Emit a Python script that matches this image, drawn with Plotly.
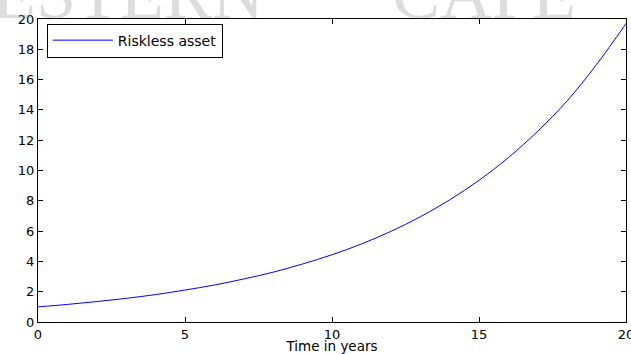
import plotly.graph_objects as go

years = [0, 1, 2, 3, 4, 5, 6, 7, 8, 9, 10, 11, 12, 13, 14, 15, 16, 17, 18, 19, 20]
riskless = [1.00, 1.16, 1.35, 1.56, 1.81, 2.11, 2.44, 2.84, 3.29, 3.83, 4.44,
            5.15, 5.98, 6.94, 8.06, 9.35, 10.85, 12.60, 14.60, 17.00, 19.70]
x_ticks = [0, 5, 10, 15, 20]
y_ticks = [0, 2, 4, 6, 8, 10, 12, 14, 16, 18, 20]

FONT = "DejaVu Sans, Liberation Sans, Arial, sans-serif"
SERIF = "Liberation Serif, DejaVu Serif, serif"

fig = go.Figure()
fig.add_trace(go.Scatter(
    x=years, y=riskless, mode="lines", name="Riskless asset",
    line=dict(color="rgb(0,0,255)", width=1, shape="spline"),
))

axis_common = dict(
    showline=True, linecolor="black", linewidth=1, mirror="ticks",
    ticks="inside", ticklen=5, tickcolor="black", showgrid=False,
    zeroline=False, automargin=False, ticklabeloverflow="allow",
    tickfont=dict(family=FONT, size=13, color="black"),
)
fig.update_xaxes(range=[0, 20], tickvals=x_ticks,
                 title=dict(text="Time in years", font=dict(family=FONT, size=13.5, color="black"), standoff=1),
                 **axis_common)
fig.update_yaxes(range=[0, 20], tickvals=y_ticks, **axis_common)

wm_font = dict(family=SERIF, size=72, color="rgba(140,140,140,0.3)")
fig.add_annotation(
    text="WESTERN", xref="paper", yref="paper", x=(266 - 38) / 588, y=1.0,
    xanchor="right", yanchor="bottom", yshift=-17, showarrow=False, font=wm_font,
)
fig.add_annotation(
    text="CAPE", xref="paper", yref="paper", x=(390 - 38) / 588, y=1.0,
    xanchor="left", yanchor="bottom", yshift=-17, showarrow=False, font=wm_font,
)

fig.update_layout(
    width=631, height=354,
    margin=dict(l=38, r=5, t=19, b=32, autoexpand=False),
    paper_bgcolor="white", plot_bgcolor="white",
    font=dict(family=FONT, size=13, color="black"),
    showlegend=True,
    legend=dict(x=0.015, y=0.985, xanchor="left", yanchor="top",
                bordercolor="black", borderwidth=1, bgcolor="white",
                font=dict(family=FONT, size=14), itemwidth=60,
                tracegroupgap=0),
)

fig.write_html("out.html", config={"displayModeBar": False},
               post_script="document.body.style.margin='0';document.body.style.overflow='hidden';")
